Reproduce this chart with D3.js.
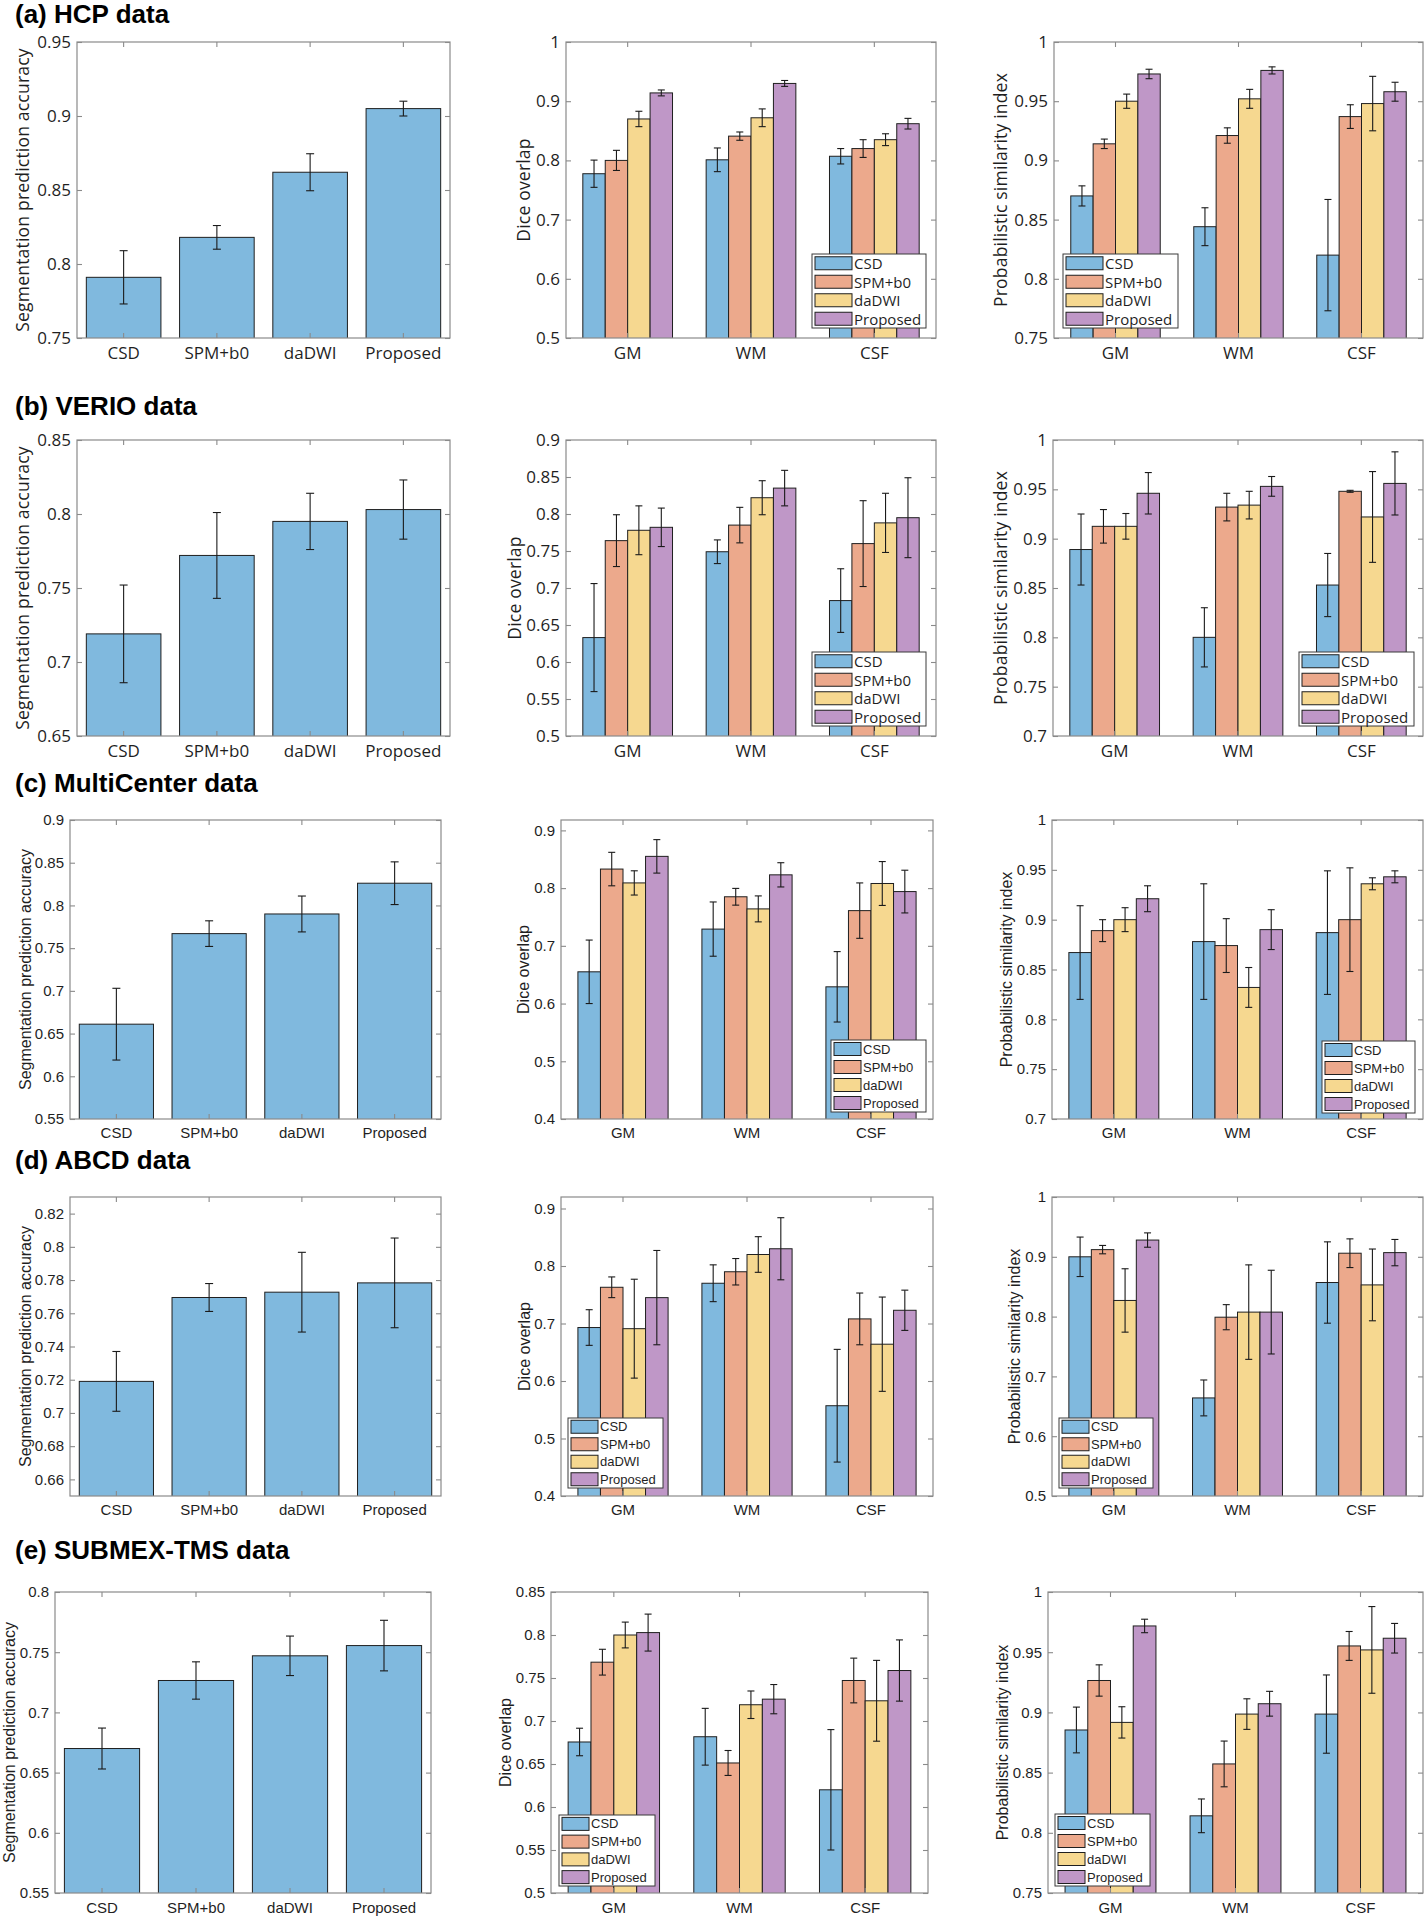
<!DOCTYPE html>
<html><head><meta charset="utf-8">
<script src="https://cdn.jsdelivr.net/npm/d3@7"></script>
<style>body{margin:0;background:#fff}</style>
</head><body>
<svg id="chart" width="1426" height="1920"></svg>
<script>
// ---------- categories ----------
const methods = ["CSD", "SPM+b0", "daDWI", "Proposed"];
const tissues = ["GM", "WM", "CSF"];

// ---------- (a) HCP ----------
const hcpAcc = [0.791, 0.818, 0.862, 0.905];
const hcpAccErr = [0.018, 0.008, 0.0125, 0.005];
const hcpDice = [[0.7775, 0.800, 0.870, 0.914], [0.801, 0.841, 0.872, 0.930], [0.807, 0.820, 0.835, 0.862]];
const hcpDiceErr = [[0.023, 0.017, 0.013, 0.005], [0.020, 0.007, 0.015, 0.005], [0.013, 0.015, 0.010, 0.009]];
const hcpPSI = [[0.870, 0.914, 0.950, 0.973], [0.844, 0.921, 0.952, 0.976], [0.820, 0.937, 0.948, 0.958]];
const hcpPSIErr = [[0.0085, 0.004, 0.006, 0.004], [0.016, 0.0065, 0.008, 0.003], [0.047, 0.010, 0.023, 0.008]];

// ---------- (b) VERIO ----------
const verioAcc = [0.719, 0.772, 0.795, 0.803];
const verioAccErr = [0.033, 0.029, 0.019, 0.020];
const verioDice = [[0.633, 0.764, 0.778, 0.782], [0.749, 0.785, 0.822, 0.835], [0.683, 0.760, 0.788, 0.795]];
const verioDiceErr = [[0.073, 0.035, 0.033, 0.026], [0.016, 0.024, 0.023, 0.024], [0.043, 0.058, 0.040, 0.054]];
const verioPSI = [[0.889, 0.9125, 0.9125, 0.946], [0.800, 0.932, 0.934, 0.953], [0.853, 0.948, 0.922, 0.956]];
const verioPSIErr = [[0.036, 0.017, 0.013, 0.021], [0.030, 0.014, 0.014, 0.010], [0.032, 0.001, 0.046, 0.032]];

// ---------- (c) MultiCenter ----------
const mcAcc = [0.661, 0.767, 0.790, 0.826];
const mcAccErr = [0.042, 0.015, 0.021, 0.025];
const mcDice = [[0.655, 0.833, 0.809, 0.855], [0.729, 0.785, 0.764, 0.823], [0.629, 0.761, 0.808, 0.794]];
const mcDiceErr = [[0.055, 0.029, 0.021, 0.029], [0.047, 0.0145, 0.0225, 0.021], [0.061, 0.048, 0.038, 0.037]];
const mcPSI = [[0.867, 0.889, 0.900, 0.921], [0.878, 0.874, 0.832, 0.890], [0.887, 0.900, 0.936, 0.943]];
const mcPSIErr = [[0.047, 0.011, 0.012, 0.013], [0.058, 0.027, 0.020, 0.020], [0.062, 0.052, 0.006, 0.006]];

// ---------- (d) ABCD ----------
const abcdAcc = [0.719, 0.7695, 0.7727, 0.7783];
const abcdAccErr = [0.018, 0.0084, 0.024, 0.027];
const abcdDice = [[0.693, 0.763, 0.691, 0.745], [0.770, 0.790, 0.820, 0.830], [0.557, 0.708, 0.664, 0.723]];
const abcdDiceErr = [[0.031, 0.018, 0.086, 0.082], [0.032, 0.023, 0.031, 0.054], [0.098, 0.045, 0.082, 0.035]];
const abcdPSI = [[0.900, 0.912, 0.827, 0.928], [0.664, 0.799, 0.8075, 0.8075], [0.857, 0.906, 0.853, 0.907]];
const abcdPSIErr = [[0.033, 0.007, 0.053, 0.012], [0.030, 0.021, 0.079, 0.070], [0.068, 0.024, 0.060, 0.022]];

// ---------- (e) SUBMEX-TMS ----------
const subAcc = [0.670, 0.7265, 0.747, 0.7555];
const subAccErr = [0.017, 0.0155, 0.0164, 0.021];
const subDice = [[0.6756, 0.7684, 0.800, 0.8028], [0.6817, 0.6512, 0.7189, 0.7254], [0.620, 0.7471, 0.7235, 0.7587]];
const subDiceErr = [[0.016, 0.015, 0.015, 0.0215], [0.033, 0.0145, 0.016, 0.017], [0.070, 0.026, 0.047, 0.0356]];
const subPSI = [[0.8854, 0.9265, 0.8917, 0.9718], [0.8141, 0.8572, 0.8986, 0.9072], [0.8986, 0.9552, 0.9519, 0.9616]];
const subPSIErr = [[0.019, 0.013, 0.013, 0.0056], [0.014, 0.019, 0.0127, 0.0103], [0.0325, 0.012, 0.036, 0.0123]];

// ---------- tick labels ----------
const ticksAccA = [0.75, 0.8, 0.85, 0.9, 0.95];
const ticksDiceA = [0.5, 0.6, 0.7, 0.8, 0.9, 1];
const ticksPSIA = [0.75, 0.8, 0.85, 0.9, 0.95, 1];
const ticksAccB = [0.65, 0.7, 0.75, 0.8, 0.85];
const ticksDiceB = [0.5, 0.55, 0.6, 0.65, 0.7, 0.75, 0.8, 0.85, 0.9];
const ticksPSIB = [0.7, 0.75, 0.8, 0.85, 0.9, 0.95, 1];
const ticksAccC = [0.55, 0.6, 0.65, 0.7, 0.75, 0.8, 0.85, 0.9];
const ticksDiceC = [0.4, 0.5, 0.6, 0.7, 0.8, 0.9];
const ticksPSIC = [0.7, 0.75, 0.8, 0.85, 0.9, 0.95, 1];
const ticksAccD = [0.66, 0.68, 0.7, 0.72, 0.74, 0.76, 0.78, 0.8, 0.82];
const ticksDiceD = [0.4, 0.5, 0.6, 0.7, 0.8, 0.9];
const ticksPSID = [0.5, 0.6, 0.7, 0.8, 0.9, 1];
const ticksAccE = [0.55, 0.6, 0.65, 0.7, 0.75, 0.8];
const ticksDiceE = [0.5, 0.55, 0.6, 0.65, 0.7, 0.75, 0.8, 0.85];
const ticksPSIE = [0.75, 0.8, 0.85, 0.9, 0.95, 1];

// ---------- axis labels ----------
const yLabelAcc = "Segmentation prediction accuracy";
const yLabelDice = "Dice overlap";
const yLabelPSI = "Probabilistic similarity index";

// ---------- styling / layout ----------
const fills = ["#80b9de", "#eca98c", "#f6d890", "#bf97c7"];
const fontAB = "'Open Sans', 'Noto Sans', sans-serif";
const fontCE = "'Liberation Sans', Arial, sans-serif";

const rows = [
  { title: "(a) HCP data", titleY: 23, font: fontAB, tick: 17, lab: 17.5, ls: 0.2, leg: 15, sw: 37, y0: 42, y1: 338, xl: 353,
    panels: [
      { x0: 77, x1: 450, ylim: [0.75, 0.95], ticks: ticksAccA, yl: yLabelAcc, ylx: 22, v: hcpAcc, e: hcpAccErr },
      { x0: 566, x1: 936, ylim: [0.5, 1], ticks: ticksDiceA, yl: yLabelDice, ylx: 523, v: hcpDice, e: hcpDiceErr, leg: [812, 254, 114, 74] },
      { x0: 1054, x1: 1423, ylim: [0.75, 1], ticks: ticksPSIA, yl: yLabelPSI, ylx: 1000, v: hcpPSI, e: hcpPSIErr, leg: [1063, 254, 115, 74] } ] },
  { title: "(b) VERIO data", titleY: 415, font: fontAB, tick: 17, lab: 17.5, ls: 0.2, leg: 15, sw: 37, y0: 440, y1: 736, xl: 751,
    panels: [
      { x0: 77, x1: 450, ylim: [0.65, 0.85], ticks: ticksAccB, yl: yLabelAcc, ylx: 22, v: verioAcc, e: verioAccErr },
      { x0: 566, x1: 936, ylim: [0.5, 0.9], ticks: ticksDiceB, yl: yLabelDice, ylx: 514, v: verioDice, e: verioDiceErr, leg: [812, 652, 114, 74] },
      { x0: 1053, x1: 1423, ylim: [0.7, 1], ticks: ticksPSIB, yl: yLabelPSI, ylx: 1000, v: verioPSI, e: verioPSIErr, leg: [1299, 652, 115, 74] } ] },
  { title: "(c) MultiCenter data", titleY: 792, font: fontCE, tick: 15, lab: 16, ls: 0, leg: 13, sw: 27, y0: 820, y1: 1119, xl: 1133,
    panels: [
      { x0: 70, x1: 441, ylim: [0.55, 0.9], ticks: ticksAccC, yl: yLabelAcc, ylx: 25, v: mcAcc, e: mcAccErr },
      { x0: 561, x1: 933, ylim: [0.4, 0.918], ticks: ticksDiceC, yl: yLabelDice, ylx: 523, v: mcDice, e: mcDiceErr, leg: [831, 1040, 95, 72] },
      { x0: 1052, x1: 1423, ylim: [0.7, 1], ticks: ticksPSIC, yl: yLabelPSI, ylx: 1006, v: mcPSI, e: mcPSIErr, leg: [1322, 1041, 93, 72] } ] },
  { title: "(d) ABCD data", titleY: 1169, font: fontCE, tick: 15, lab: 16, ls: 0, leg: 13, sw: 27, y0: 1197, y1: 1496, xl: 1510,
    panels: [
      { x0: 70, x1: 441, ylim: [0.65, 0.83], ticks: ticksAccD, yl: yLabelAcc, ylx: 25, v: abcdAcc, e: abcdAccErr },
      { x0: 561, x1: 933, ylim: [0.4, 0.92], ticks: ticksDiceD, yl: yLabelDice, ylx: 524, v: abcdDice, e: abcdDiceErr, leg: [568, 1418, 95, 70] },
      { x0: 1052, x1: 1423, ylim: [0.5, 1], ticks: ticksPSID, yl: yLabelPSI, ylx: 1014, v: abcdPSI, e: abcdPSIErr, leg: [1059, 1418, 94, 70] } ] },
  { title: "(e) SUBMEX-TMS data", titleY: 1559, font: fontCE, tick: 15, lab: 16, ls: 0, leg: 13, sw: 27, y0: 1592, y1: 1893, xl: 1908,
    panels: [
      { x0: 55, x1: 431, ylim: [0.55, 0.8], ticks: ticksAccE, yl: yLabelAcc, ylx: 9, v: subAcc, e: subAccErr },
      { x0: 551, x1: 928, ylim: [0.5, 0.85], ticks: ticksDiceE, yl: yLabelDice, ylx: 505, v: subDice, e: subDiceErr, leg: [559, 1815, 96, 71] },
      { x0: 1048, x1: 1423, ylim: [0.75, 1], ticks: ticksPSIE, yl: yLabelPSI, ylx: 1002, v: subPSI, e: subPSIErr, leg: [1055, 1814, 95, 72] } ] }
];

const svg = d3.select("#chart");
const defs = svg.append("defs");
const txtColor = "#1f1f1f";
const boxColor = "#8a8a8a";
const fmt = v => String(+v.toFixed(3));
let clipId = 0;

function drawErr(g, cx, y, v, e, cap) {
  g.append("line").attr("x1", cx).attr("x2", cx).attr("y1", y(v - e)).attr("y2", y(v + e))
    .attr("stroke", "#1a1a1a").attr("stroke-width", 1.1);
  [v - e, v + e].forEach(t => g.append("line").attr("x1", cx - cap).attr("x2", cx + cap)
    .attr("y1", y(t)).attr("y2", y(t)).attr("stroke", "#1a1a1a").attr("stroke-width", 1.1));
}

rows.forEach(row => {
  svg.append("text").attr("x", 15).attr("y", row.titleY).text(row.title)
    .attr("font-family", "'Liberation Sans', Arial, sans-serif").attr("font-weight", "bold")
    .attr("font-size", 26).attr("fill", "#000");

  row.panels.forEach((p, pi) => {
    const g = svg.append("g").attr("font-family", row.font);
    const y = d3.scaleLinear().domain(p.ylim).range([row.y1, row.y0]);
    const cid = "clip" + (clipId++);
    defs.append("clipPath").attr("id", cid).append("rect")
      .attr("x", p.x0).attr("y", row.y0).attr("width", p.x1 - p.x0).attr("height", row.y1 - row.y0);
    const plot = g.append("g").attr("clip-path", `url(#${cid})`);
    let xScale;
    if (pi === 0) {
      xScale = d3.scaleBand().domain(methods).range([p.x0, p.x1]).paddingInner(0.2).paddingOuter(0.1);
      methods.forEach((m, i) => {
        plot.append("rect").attr("x", xScale(m)).attr("width", xScale.bandwidth())
          .attr("y", y(p.v[i])).attr("height", y(p.ylim[0]) - y(p.v[i]) + 2)
          .attr("fill", fills[0]).attr("stroke", "#1f1f1f").attr("stroke-width", 1);
      });
      methods.forEach((m, i) => drawErr(plot, xScale(m) + xScale.bandwidth() / 2, y, p.v[i], p.e[i], 4));
    } else {
      const gw = 4 / 5.5;
      xScale = d3.scaleBand().domain(tissues).range([p.x0, p.x1]).paddingInner(1 - gw).paddingOuter((1 - gw) / 2);
      const inner = d3.scaleBand().domain(methods).range([0, xScale.bandwidth()]).padding(0);
      tissues.forEach((t, ti) => {
        methods.forEach((m, mi) => {
          plot.append("rect").attr("x", xScale(t) + inner(m)).attr("width", inner.bandwidth())
            .attr("y", y(p.v[ti][mi])).attr("height", y(p.ylim[0]) - y(p.v[ti][mi]) + 2)
            .attr("fill", fills[mi]).attr("stroke", "#1f1f1f").attr("stroke-width", 1);
        });
      });
      tissues.forEach((t, ti) => methods.forEach((m, mi) =>
        drawErr(plot, xScale(t) + inner(m) + inner.bandwidth() / 2, y, p.v[ti][mi], p.e[ti][mi], 3.5)));
    }
    // box
    g.append("rect").attr("x", p.x0).attr("y", row.y0).attr("width", p.x1 - p.x0).attr("height", row.y1 - row.y0)
      .attr("fill", "none").attr("stroke", boxColor).attr("stroke-width", 1.2);
    // axes
    const xb = g.append("g").attr("transform", `translate(0,${row.y1})`)
      .call(d3.axisBottom(xScale).tickSize(-5).tickPadding(9));
    const xt = g.append("g").attr("transform", `translate(0,${row.y0})`)
      .call(d3.axisTop(xScale).tickSize(-5).tickFormat(""));
    const yl = g.append("g").attr("transform", `translate(${p.x0},0)`)
      .call(d3.axisLeft(y).tickValues(p.ticks).tickFormat(fmt).tickSize(-5).tickPadding(6));
    const yr = g.append("g").attr("transform", `translate(${p.x1},0)`)
      .call(d3.axisRight(y).tickValues(p.ticks).tickFormat("").tickSize(-5));
    [xb, xt, yl, yr].forEach(a => {
      a.select(".domain").remove();
      a.selectAll(".tick line").attr("stroke", boxColor).attr("stroke-width", 1.1);
      a.selectAll(".tick text").attr("fill", txtColor).attr("font-size", row.tick).attr("font-family", row.font);
    });
    xb.selectAll(".tick text").attr("dy", null).attr("y", row.xl - row.y1 + row.tick * 0.36);
    // y label
    g.append("text").attr("transform", `translate(${p.ylx},${(row.y0 + row.y1) / 2}) rotate(-90)`)
      .attr("text-anchor", "middle").attr("dominant-baseline", "central")
      .attr("font-size", row.lab).attr("letter-spacing", row.ls).attr("fill", txtColor).text(p.yl);
    // legend
    if (p.leg) {
      const [lx, ly, lw, lh] = p.leg;
      const lg = g.append("g");
      lg.append("rect").attr("x", lx).attr("y", ly).attr("width", lw).attr("height", lh)
        .attr("fill", "#fff").attr("stroke", "#3a3a3a").attr("stroke-width", 1);
      const rh = lh / 4;
      methods.forEach((m, i) => {
        const cy = ly + rh * (i + 0.5);
        lg.append("rect").attr("x", lx + 3).attr("y", cy - 6.5).attr("width", row.sw).attr("height", 13)
          .attr("fill", fills[i]).attr("stroke", "#1f1f1f").attr("stroke-width", 1);
        lg.append("text").attr("x", lx + 3 + row.sw + 2).attr("y", cy).attr("dominant-baseline", "central")
          .attr("font-size", row.leg).attr("fill", txtColor).text(m);
      });
    }
  });
});
</script>
</body></html>
